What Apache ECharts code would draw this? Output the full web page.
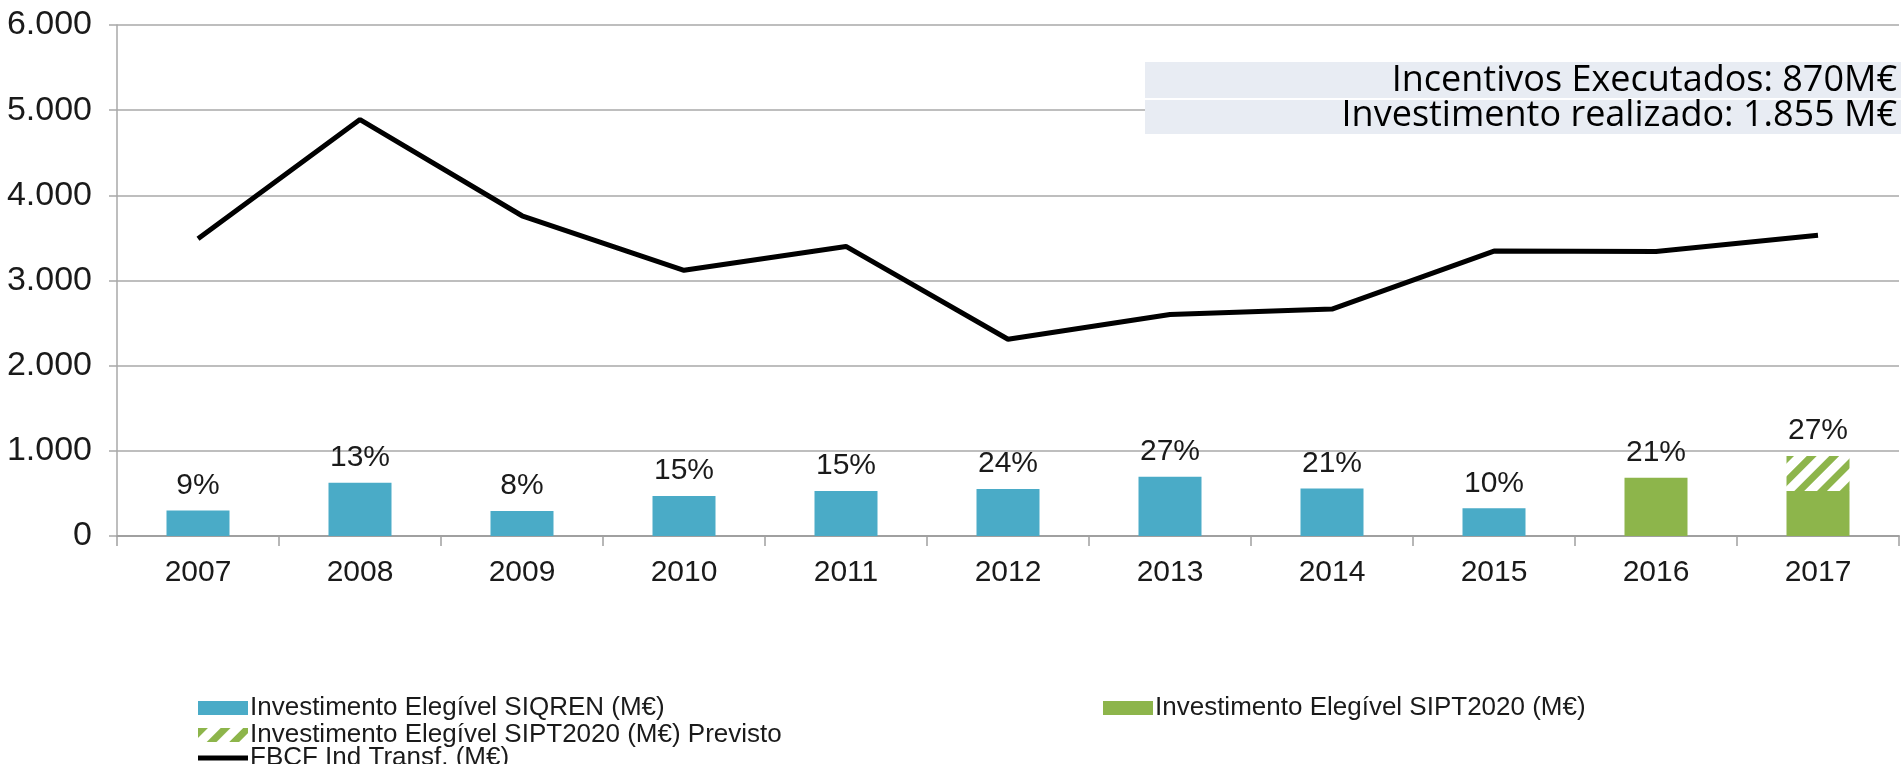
<!DOCTYPE html>
<html>
<head>
<meta charset="utf-8">
<script src="https://cdn.jsdelivr.net/npm/echarts@6/dist/echarts.min.js"></script>
<style>
html,body{margin:0;padding:0;background:#fff;}
#chart{width:1903px;height:764px;}
</style>
</head>
<body>
<div id="chart"></div>
<script>
// ---- data ----
const years = ['2007','2008','2009','2010','2011','2012','2013','2014','2015','2016','2017'];
const siqren = [300, 625, 295, 469, 528, 551, 695, 559, 325, '-', '-'];
const sipt2020 = ['-', '-', '-', '-', '-', '-', '-', '-', '-', 683, 528];
const sipt2020Previsto = ['-', '-', '-', '-', '-', '-', '-', '-', '-', '-', 410];
const fbcf = [3490, 4890, 3760, 3120, 3400, 2310, 2600, 2665, 3345, 3340, 3530];
const pcts = ['9%','13%','8%','15%','15%','24%','27%','21%','10%','21%','27%'];
const yTicks = [0, 1000, 2000, 3000, 4000, 5000, 6000];
const boxLines = ['Incentivos Executados: 870M€', 'Investimento realizado: 1.855 M€'];
const names = ['Investimento Elegível SIQREN (M€)', 'Investimento Elegível SIPT2020 (M€)',
               'Investimento Elegível SIPT2020 (M€) Previsto', 'FBCF Ind Transf. (M€)'];

// ---- styles ----
const FONT = '"Liberation Sans", Arial, sans-serif';
const BOXFONT = '36px "Open Sans", Lato, sans-serif';
const BLUE = '#4aabc7';
const GREEN = '#8db54b';
const TXT = '#1a1a1a';

function fmtThousands(v){
  return String(v).replace(/\B(?=(\d{3})+(?!\d))/g, '.');
}
function topLabel(seriesIdx){
  return {
    show: true, position: 'top', distance: 10,
    fontFamily: FONT, fontSize: 30, color: TXT,
    formatter: function(p){
      const i = p.dataIndex;
      let top;
      if (sipt2020Previsto[i] !== '-') top = 2;
      else if (sipt2020[i] !== '-') top = 1;
      else top = 0;
      return top === seriesIdx ? pcts[i] : '';
    }
  };
}

const legendBase = {
  itemWidth: 50, itemHeight: 14, itemGap: 4, icon: 'rect',
  textStyle: {fontFamily: FONT, fontSize: 26, color: TXT, padding: [0,0,0,-3]},
  selectedMode: false
};

const chart = echarts.init(document.getElementById('chart'));
chart.setOption({
  animation: false,
  backgroundColor: '#fff',
  grid: {left: 117, right: 4, top: 25, bottom: 228, containLabel: false},
  xAxis: {
    type: 'category', data: years,
    axisLine: {lineStyle: {color: '#a0a0a0', width: 2}},
    axisTick: {show: true, length: 10, lineStyle: {color: '#a0a0a0', width: 1.5}},
    axisLabel: {fontFamily: FONT, fontSize: 30, color: TXT, margin: 22}
  },
  yAxis: {
    type: 'value', min: yTicks[0], max: yTicks[yTicks.length-1], interval: 1000,
    axisLine: {show: true, lineStyle: {color: '#a8a8a8', width: 1.5}},
    axisTick: {show: true, length: 8, lineStyle: {color: '#a8a8a8', width: 1.5}},
    splitLine: {lineStyle: {color: '#a8a8a8', width: 1.5}},
    axisLabel: {fontFamily: FONT, fontSize: 34, color: TXT, margin: 25, formatter: fmtThousands}
  },
  legend: [
    Object.assign({}, legendBase, {data: [names[0]], left: 193, top: 690}),
    Object.assign({}, legendBase, {data: [names[1]], left: 1098, top: 690}),
    Object.assign({}, legendBase, {data: [names[2]], left: 193, top: 717}),
    Object.assign({}, legendBase, {data: [names[3]], left: 193, top: 740, itemHeight: 5})
  ],
  series: [
    {
      name: names[0], type: 'bar', stack: 'inv', data: siqren, barWidth: 63,
      itemStyle: {color: BLUE}, label: topLabel(0)
    },
    {
      name: names[1], type: 'bar', stack: 'inv', data: sipt2020, barWidth: 63,
      itemStyle: {color: GREEN}, label: topLabel(1)
    },
    {
      name: names[2], type: 'bar', stack: 'inv', data: sipt2020Previsto, barWidth: 63,
      itemStyle: {
        color: '#ffffff',
        decal: {symbol: 'rect', symbolSize: 1, dashArrayX: [1, 0], dashArrayY: [7, 9],
                rotation: -Math.PI/4, color: GREEN}
      },
      label: topLabel(2)
    },
    {
      name: names[3], type: 'line', data: fbcf, symbol: 'none',
      lineStyle: {color: '#000', width: 5}, itemStyle: {color: '#000'}, z: 5
    }
  ],
  graphic: [
    {type: 'rect', shape: {x: 1145, y: 62, width: 756, height: 36}, style: {fill: '#e8ecf3'}, z: 10},
    {type: 'rect', shape: {x: 1145, y: 100, width: 756, height: 34}, style: {fill: '#e8ecf3'}, z: 10},
    {type: 'text', x: 1897, y: 81, z: 11,
     style: {text: boxLines[0], fill: '#000', font: BOXFONT, textAlign: 'right', textVerticalAlign: 'middle'}},
    {type: 'text', x: 1897, y: 116, z: 11,
     style: {text: boxLines[1], fill: '#000', font: BOXFONT, textAlign: 'right', textVerticalAlign: 'middle'}}
  ]
});
</script>
</body>
</html>
